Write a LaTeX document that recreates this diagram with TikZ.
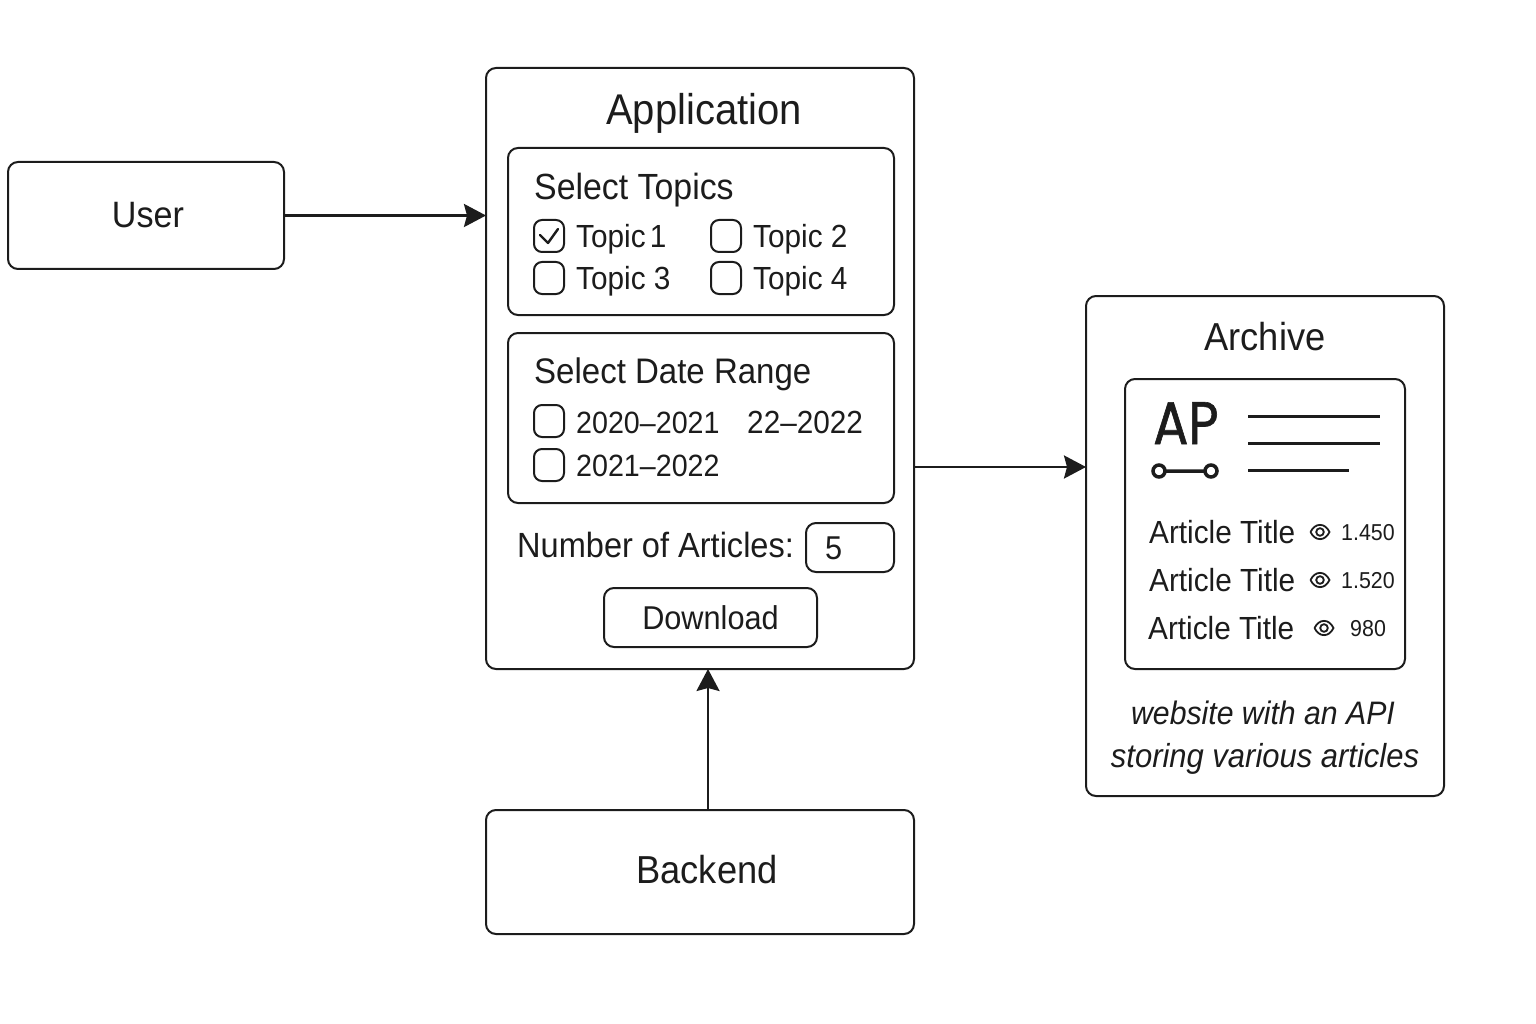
\documentclass[tikz,border=0pt]{standalone}
\usepackage{fontspec}
\setmainfont[FakeStretch=0.93]{Liberation Sans}
\newfontfamily\logofont[FakeBold=1,FakeStretch=0.87]{Poppins}
\usetikzlibrary{arrows.meta}
\definecolor{ink}{HTML}{1C1C1C}
\newcommand{\fsz}[1]{\fontsize{#1}{#1}\selectfont}
\tikzset{
 box/.style={draw=ink, line width=2pt, rounded corners=10pt, anchor=north west, inner sep=0, outer sep=0, text=ink},
 txt/.style={anchor=base west, inner sep=0, text=ink},
 mid/.style={anchor=base, inner sep=0, text=ink},
 tick/.style={box, rounded corners=8pt, minimum width=30pt, minimum height=32pt},
 link/.style={draw=ink, line width=2.6pt, -{Stealth[length=22pt,width=23pt,inset=3pt]}},
 rule/.style={draw=ink, line width=3pt},
 pics/eyeicon/.style={code={
  \draw[ink, line width=1.8pt, line join=round] (-9.5,0) .. controls (-5,-9.5) and (5,-9.5) .. (9.5,0) .. controls (5,9.5) and (-5,9.5) .. (-9.5,0) -- cycle;
  \draw[ink, line width=1.8pt] (0,0) circle (3.8);
 }}
}
\begin{document}
\begin{tikzpicture}[x=1pt,y=-1pt]
\useasboundingbox (0,0) rectangle (1536,1024);
% outer boxes
\node[box, minimum width=276pt, minimum height=107pt] (user) at (8,162) {};
\node[mid, font=\fsz{36.7}] (userlabel) at (148,228) {User};
\node[box, minimum width=428pt, minimum height=601pt] (app) at (486,68) {};
\node[box, minimum width=428pt, minimum height=124pt] (backend) at (486,810) {};
\node[mid, font=\fsz{39}] (backendlabel) at (707,883) {Backend};
\node[box, minimum width=358pt, minimum height=500pt] (archive) at (1086,296) {};
\node[box, minimum width=280pt, minimum height=290pt] (paper) at (1125,379) {};
% application
\node[mid, font=\fsz{43}] (apptitle) at (704,125) {Application};
\node[box, minimum width=386pt, minimum height=167pt] (topics) at (508,148) {};
\node[box, minimum width=386pt, minimum height=170pt] (dates) at (508,333) {};
\node[txt, font=\fsz{36.4}] (topicstitle) at (534,200) {Select Topics};
\foreach \n/\x/\y/\b/\t in {1/534/220/248/Topic\kern-4pt\ 1,2/711/220/248/Topic 2,3/534/262/290/Topic 3,4/711/262/290/Topic 4} {
 \node[tick] (tick\n) at (\x,\y) {};
 \node[txt, font=\fsz{32}] (topic\n) at (\x+42,\b) {\t};
}
\draw[ink, line width=2.4pt, line cap=round, line join=round] (540,235)--(548,243)--(558,229);
\node[txt, font=\fsz{35.5}] (datestitle) at (534,383) {Select Date Range};
\node[tick] (tickA) at (534,405) {};
\node[txt, font=\fsz{30.8}] (rangeA) at (576,433) {2020--2021};
\node[txt, font=\fsz{32}] (rangeB) at (747,433) {22--2022};
\node[tick] (tickC) at (534,449) {};
\node[txt, font=\fsz{30.8}] (rangeC) at (576,476) {2021--2022};
\node[txt, font=\fsz{35}] (numlabel) at (517,557) {Number of Articles:};
\node[box, minimum width=88pt, minimum height=49pt] (numbox) at (806,523) {};
\node[txt, font=\fsz{33}] (numval) at (825,559) {5};
\node[box, minimum width=213pt, minimum height=59pt, font=\fsz{33}] (download) at (604,588) {Download};
% archive
\node[mid, font=\fsz{39}] (archtitle) at (1265,350) {Archive};
\node[txt, font=\logofont\fsz{60}] (logo) at (1153,444) {AP};
\draw[ink, line width=3.5pt] (1159,471) circle (6) (1211,471) circle (6) (1165,471) -- (1205,471);
\draw[rule] (1248,416) -- (1380,416);
\draw[rule] (1248,443) -- (1380,443);
\draw[rule] (1248,470) -- (1349,470);
\foreach \n/\x/\y/\ex/\vx/\val in {1/1149/543/1320/1341/1.450,2/1149/591/1320/1341/1.520,3/1148/639/1324/1350/980} {
 \node[txt, font=\fsz{32}] (title\n) at (\x,\y) {Article Title};
 \pic at (\ex,\y-11) {eyeicon};
 \node[txt, font=\fsz{23}] (views\n) at (\vx,\y-3) {\val};
}
\node[mid, font=\itshape\fsz{32.5}] (noteA) at (1263,724) {website with an API};
\node[mid, font=\itshape\fsz{33.3}] (noteB) at (1265,767) {storing various articles};
% connectors
\coordinate (appout) at (914,467);
\coordinate (appin) at (708,810);
\draw[link] (user.east) -- (user.east -| app.west);
\draw[link] (appout) -- (appout -| archive.west);
\draw[link] (appin) -- (appin |- app.south);
\end{tikzpicture}
\end{document}
